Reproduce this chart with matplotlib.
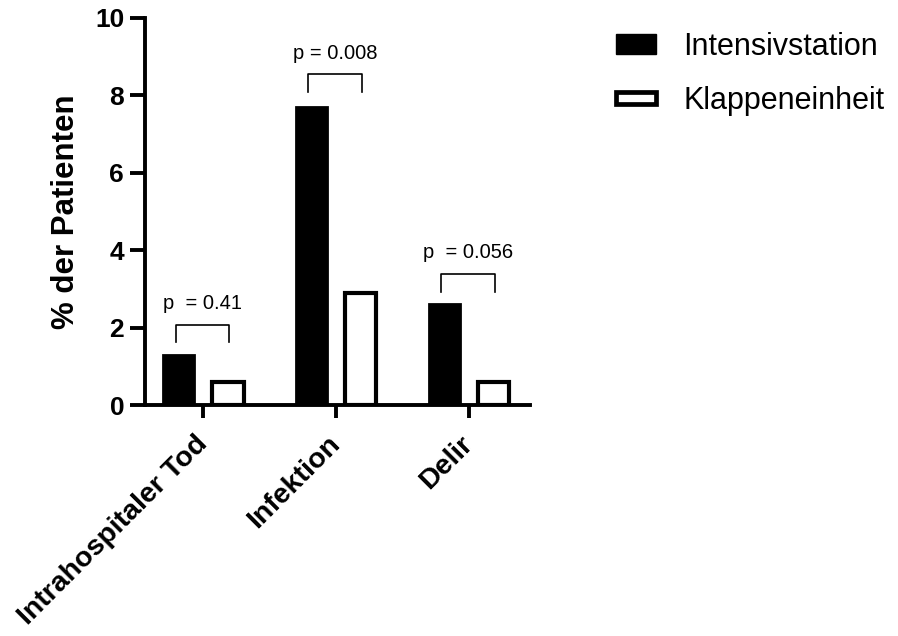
import numpy as np
from matplotlib import pyplot as plt
from matplotlib.patches import Patch, Rectangle
from matplotlib.legend_handler import HandlerPatch
from matplotlib.transforms import ScaledTranslation

plt.rcParams['font.family'] = ['Liberation Sans', 'DejaVu Sans']

categories = ['Intrahospitaler Tod', 'Infektion', 'Delir']
intensiv = [1.3, 7.7, 2.6]
klappe = [0.6, 2.9, 0.6]
p_labels = ['p  = 0.41', 'p = 0.008', 'p  = 0.056']
bracket_top = [2.07, 8.55, 3.39]
bracket_low = [1.63, 8.09, 2.92]

fig = plt.figure(figsize=(8.98, 6.36), dpi=100)
ax = fig.add_axes([0.1615, 0.3632, 0.4285, 0.6085])

x = np.arange(len(categories))
off = 0.185
w = 0.235
lw = 3.0
ax.bar(x - off, intensiv, w, color='black', edgecolor='black', linewidth=2)
ax.bar(x + off, klappe, w, color='white', edgecolor='black', linewidth=lw)

# Signifikanz-Klammern
for i in range(len(categories)):
    x0 = i - 0.21
    x1 = i + 0.195
    ax.plot([x0, x0, x1, x1], [bracket_low[i], bracket_top[i], bracket_top[i], bracket_low[i]],
            color='black', linewidth=1.2, clip_on=False)
    ax.text((x0 + x1) / 2, bracket_top[i] + 0.3, p_labels[i], ha='center', va='bottom', fontsize=14.5)

ax.set_xlim(-0.44, 2.46)
ax.set_ylim(0, 10)
ax.set_yticks([0, 2, 4, 6, 8, 10])
ax.set_xticks(x)
ax.set_xticklabels([])

# Kategorienamen schraeg unter den Ticks
shift = ScaledTranslation(-0.09, -0.26, fig.dpi_scale_trans)
for i, name in enumerate(categories):
    ax.text(i, 0, name, transform=ax.get_xaxis_transform() + shift,
            rotation=45, ha='right', va='top', rotation_mode='anchor',
            fontsize=20.5, fontweight='bold')

for lab in ax.get_yticklabels():
    lab.set_fontsize(19)
    lab.set_fontweight('bold')
ax.set_ylabel('% der Patienten', fontsize=22.5, fontweight='bold', labelpad=10)

ax.spines['top'].set_visible(False)
ax.spines['right'].set_visible(False)
ax.spines['left'].set_linewidth(2.8)
ax.spines['bottom'].set_linewidth(2.8)
ax.tick_params(axis='y', length=11, width=2.8, pad=4)
ax.tick_params(axis='x', length=9, width=2.8, pad=7)


def make_box(legend, orig_handle, xdescent, ydescent, width, height, fontsize):
    # weisses Kaestchen flacher als das schwarze
    if orig_handle.get_facecolor()[0] > 0.5:
        h = height * 0.62
        return Rectangle((-xdescent, -ydescent + (height - h) / 2), width, h)
    return Rectangle((-xdescent, -ydescent), width, height)


handles = [Patch(facecolor='black', edgecolor='black', linewidth=1),
           Patch(facecolor='white', edgecolor='black', linewidth=3.4)]
fig.legend(handles, ['Intensivstation', 'Klappeneinheit'], loc='upper left',
           bbox_to_anchor=(0.6555, 0.993), frameon=False, fontsize=22,
           handlelength=1.3, handleheight=0.6, handletextpad=0.9, labelspacing=0.78,
           handler_map={Patch: HandlerPatch(patch_func=make_box)})

plt.savefig('out.png', dpi=100)
